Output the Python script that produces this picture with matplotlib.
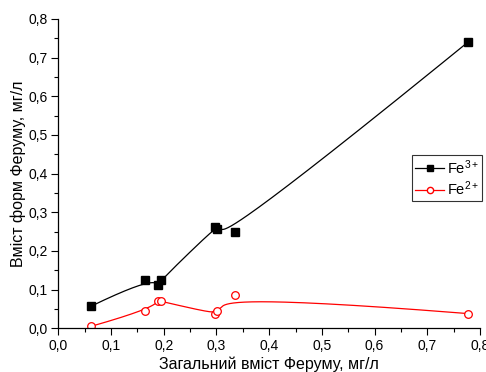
import numpy as np
import matplotlib
matplotlib.use("Agg")
import matplotlib.pyplot as plt
from matplotlib.ticker import MultipleLocator, FuncFormatter

plt.rcParams['font.family'] = ['Liberation Sans', 'DejaVu Sans']
plt.rcParams['mathtext.fontset'] = 'custom'
plt.rcParams['mathtext.rm'] = 'Liberation Sans'
plt.rcParams['mathtext.it'] = 'Liberation Sans'
plt.rcParams['mathtext.bf'] = 'Liberation Sans'

total_fe = [0.062, 0.165, 0.190, 0.195, 0.298, 0.301, 0.335, 0.777]
fe3 = [0.057, 0.125, 0.112, 0.125, 0.261, 0.257, 0.250, 0.740]
fe2 = [0.005, 0.045, 0.071, 0.070, 0.037, 0.046, 0.086, 0.038]

series_labels = ['Fe$^{3+}$', 'Fe$^{2+}$']
x_ticks = [0.0, 0.1, 0.2, 0.3, 0.4, 0.5, 0.6, 0.7, 0.8]
y_ticks = [0.0, 0.1, 0.2, 0.3, 0.4, 0.5, 0.6, 0.7, 0.8]


def bspline(px, py, n=400, k=3):
    P = np.column_stack([px, py])
    m = len(P)
    inner = np.linspace(0, 1, m - k + 1)
    t = np.concatenate([np.zeros(k), inner, np.ones(k)])
    us = np.linspace(0, 1 - 1e-9, n)
    out = []
    for u in us:
        j = np.searchsorted(t, u, side='right') - 1
        j = min(max(j, k), m - 1)
        d = [P[j - k + i].copy() for i in range(k + 1)]
        for r in range(1, k + 1):
            for i in range(k, r - 1, -1):
                a = (u - t[i + j - k]) / (t[i + 1 + j - r] - t[i + j - k])
                d[i] = (1 - a) * d[i - 1] + a * d[i]
        out.append(d[k])
    out.append(P[-1])
    out = np.array(out)
    return out[:, 0], out[:, 1]


fig = plt.figure(figsize=(4.86, 3.72), dpi=100)
ax = fig.add_axes([0.12, 0.1175, 0.8677, 0.8315])

cx, cy = bspline(total_fe, fe3)
ax.plot(cx, cy, color='black', lw=0.9)
cx2, cy2 = bspline(total_fe, fe2)
ax.plot(cx2, cy2, color='red', lw=0.9)
ax.plot(total_fe, fe3, 's', color='black', ms=5.5, ls='none')
ax.plot(total_fe, fe2, 'o', mfc='white', mec='red', ms=5.5, ls='none', mew=0.9)

h1, = ax.plot([], [], '-s', color='black', ms=4, lw=0.9)
h2, = ax.plot([], [], '-o', color='red', mfc='white', mec='red', ms=4.5, lw=0.9)
leg = ax.legend([h1, h2], series_labels, loc='upper left', bbox_to_anchor=(0.839, 0.56),
                frameon=True, fancybox=False, edgecolor='black', fontsize=10.5,
                handlelength=2.0, handletextpad=0.2, borderpad=0.2, labelspacing=0.2,
                borderaxespad=0)
leg.get_frame().set_linewidth(0.8)

ax.set_xlim(0, 0.8)
ax.set_ylim(0, 0.8)
ax.set_xticks(x_ticks)
ax.set_yticks(y_ticks)
fmt = FuncFormatter(lambda v, p: f"{v:.1f}".replace('.', ','))
ax.xaxis.set_major_formatter(fmt)
ax.yaxis.set_major_formatter(fmt)
ax.xaxis.set_minor_locator(MultipleLocator(0.05))
ax.yaxis.set_minor_locator(MultipleLocator(0.05))
ax.tick_params(which='major', direction='out', length=5, width=0.8, labelsize=10, pad=2.5)
ax.tick_params(which='minor', direction='out', length=3, width=0.8)
for s in ['top', 'right']:
    ax.spines[s].set_visible(False)
for s in ['left', 'bottom']:
    ax.spines[s].set_linewidth(0.9)

ax.set_xlabel('Загальний вміст Феруму, мг/л', fontsize=11.5, labelpad=3)
ax.set_ylabel('Вміст форм Феруму, мг/л', fontsize=11.5, labelpad=2)

fig.savefig('out.png', dpi=100)
